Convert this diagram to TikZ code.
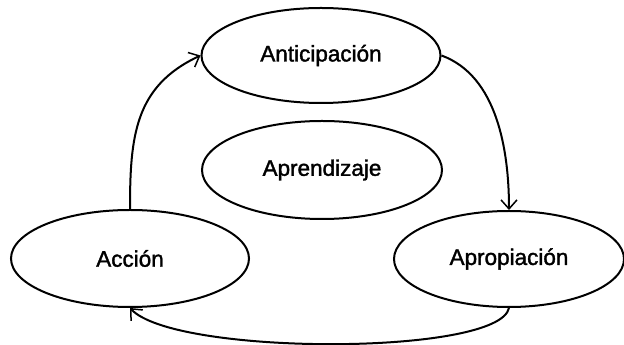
\documentclass[tikz,border=0pt]{standalone}
\usepackage{fontspec}
\setmainfont{Liberation Sans}
\newfontfamily\rotulo[FakeBold=1.5]{Liberation Sans}
\usetikzlibrary{shapes.geometric,arrows.meta}

\begin{document}
\begin{tikzpicture}[x=1pt,y=1pt,
    etapa/.style={ellipse, draw=black, line width=2pt, inner sep=0pt,
        minimum width=238pt, minimum height=96pt, font=\rotulo\fontsize{22.5}{26}\selectfont},
    flecha/.style={line width=2pt, -{Straight Barb[length=9pt,width=16pt,line width=1.5pt]}}]
    %\draw[very thin,color=gray] (0,0) grid[step=50] (624,345);
    \useasboundingbox (0,0) rectangle (624,345);
    \node [etapa, minimum width=239pt, minimum height=95pt] (anticipacion) at (321,289.5) {Anticipación};
    \node [etapa, minimum width=240pt, minimum height=98pt] (aprendizaje) at (322,175) {Aprendizaje};
    \node [etapa, minimum width=238pt, minimum height=97pt] (accion) at (130,86.5) {Acción};
    \node [etapa, minimum width=230pt, minimum height=96pt] (apropiacion) at (509,86) {Apropiación};
    \draw [flecha] (accion.north) to[out=90, in=205, looseness=1.1] (anticipacion.west);
    \draw [flecha] (anticipacion.east) to[out=-20, in=90, looseness=0.9] (apropiacion.north);
    \draw [flecha] (apropiacion.south) .. controls +(-10,-48) and +(45,-48) .. (accion.south);
\end{tikzpicture}
\end{document}
